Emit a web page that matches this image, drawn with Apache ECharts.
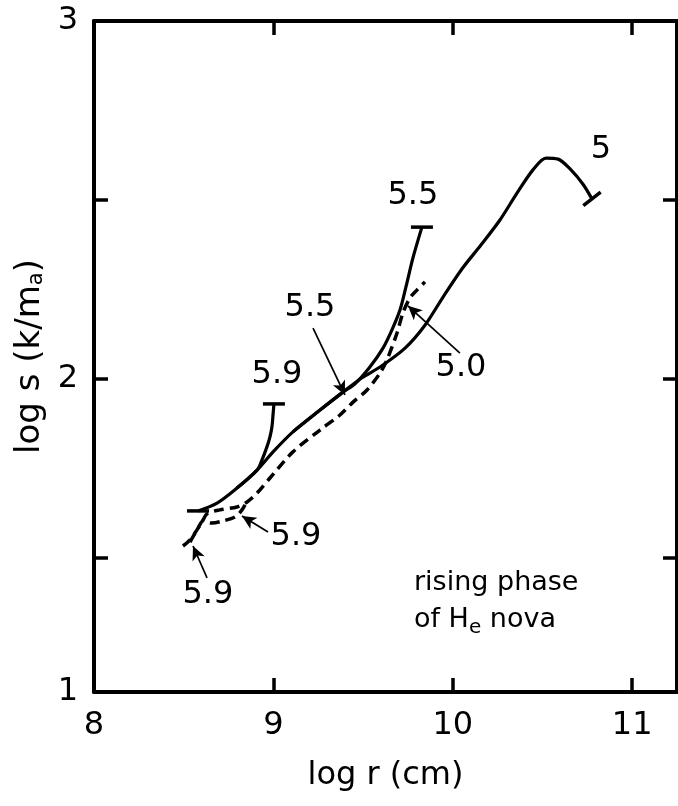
<!DOCTYPE html>
<html>
<head>
<meta charset="utf-8">
<script src="https://cdn.jsdelivr.net/npm/echarts@6/dist/echarts.min.js"></script>
<style>
  html, body { margin: 0; padding: 0; background: #fff; }
  #chart { width: 678px; height: 806px; }
</style>
</head>
<body>
<div id="chart"></div>
<script>
// Tick positions and labels
const xTickValues = [9, 10, 11];
const xLabelValues = [8, 9, 10, 11];
const yTickValues = [1.5, 2, 2.5];
const yLabelValues = [1.125, 2, 3];
const yLabelText = ['1', '2', '3'];

// Solid tracks: log r (cm) vs log s (k/m_a)
const track5X = [8.580, 8.686, 8.797, 8.909, 8.998, 9.109, 9.260, 9.388, 9.494, 9.594, 9.734, 9.845, 9.945, 10.051, 10.157, 10.263, 10.358, 10.447, 10.520, 10.587, 10.659, 10.726, 10.776];
const track5Y = [1.631, 1.653, 1.695, 1.745, 1.796, 1.852, 1.913, 1.963, 2.003, 2.033, 2.086, 2.150, 2.228, 2.307, 2.374, 2.444, 2.519, 2.584, 2.617, 2.614, 2.584, 2.544, 2.503];

const track55X = [9.109, 9.260, 9.388, 9.455, 9.538, 9.611, 9.661, 9.706, 9.739, 9.778, 9.828];
const track55Y = [1.852, 1.913, 1.963, 1.986, 2.033, 2.086, 2.137, 2.193, 2.257, 2.338, 2.424];

const track59X = [8.797, 8.909, 8.936, 8.964, 8.981, 8.992, 8.998, 9.003];
const track59Y = [1.695, 1.745, 1.773, 1.810, 1.838, 1.866, 1.899, 1.930];

// Dashed tracks
const dash50X = [8.496, 8.535, 8.574, 8.602, 8.630, 8.702, 8.797, 8.853, 8.909, 8.981, 9.109, 9.260, 9.371, 9.444, 9.522, 9.594, 9.633, 9.689, 9.722, 9.761, 9.800, 9.845];
const dash50Y = [1.533, 1.550, 1.578, 1.600, 1.623, 1.634, 1.642, 1.656, 1.681, 1.723, 1.796, 1.857, 1.899, 1.935, 1.969, 2.016, 2.053, 2.128, 2.184, 2.226, 2.248, 2.271];

const dash59X = [8.535, 8.580, 8.608, 8.658, 8.719, 8.786, 8.825, 8.858];
const dash59Y = [1.544, 1.583, 1.603, 1.597, 1.603, 1.614, 1.634, 1.662];

// Curve annotations
const labelText = ['5', '5.5', '5.9', '5.5', '5.0', '5.9', '5.9'];
const labelX = [10.826, 9.778, 9.020, 9.204, 10.046, 9.126, 8.635];
const labelY = [2.640, 2.511, 2.011, 2.198, 2.030, 1.558, 1.396];

// Pointer arrows (tail -> head)
const arrowFromX = [9.221, 10.040, 8.970, 8.630];
const arrowFromY = [2.142, 2.072, 1.572, 1.444];
const arrowToX = [9.399, 9.750, 8.825, 8.552];
const arrowToY = [1.955, 2.204, 1.617, 1.533];

const FONT = "'DejaVu Sans', sans-serif";
const INK = '#000';

const pairs = (xs, ys) => xs.map((x, i) => [x, ys[i]]);

// caps: map of point index -> rotation (deg) of the end bar drawn there
function solidTrack(xs, ys, caps) {
  return {
    type: 'line',
    data: pairs(xs, ys),
    smooth: 0.3,
    showSymbol: true,
    symbol: (v, p) => (p.dataIndex in caps ? 'rect' : 'none'),
    symbolSize: [22, 3.5],
    symbolRotate: (v, p) => caps[p.dataIndex] || 0,
    itemStyle: { color: INK, opacity: 1 },
    lineStyle: { color: INK, width: 3.2 },
    silent: true,
    z: 3
  };
}

function dashedTrack(xs, ys) {
  return {
    type: 'line',
    data: pairs(xs, ys),
    smooth: 0.3,
    showSymbol: false,
    lineStyle: { color: INK, width: 3.5, type: [10, 6] },
    silent: true,
    z: 2
  };
}

const axisLine = { show: true, onZero: false, lineStyle: { color: INK, width: 4 } };
const tickStyle = { color: INK, width: 3.5 };

const chart = echarts.init(document.getElementById('chart'), null, { renderer: 'canvas' });

chart.setOption({
  animation: false,
  backgroundColor: '#fff',
  grid: { left: 94, right: 1, top: 21, bottom: 114, containLabel: false },
  xAxis: [
    {
      type: 'value', position: 'bottom', min: 8, max: 11.25, interval: 0.25,
      axisLine,
      axisTick: { show: true, inside: true, length: 14, customValues: xTickValues, lineStyle: tickStyle },
      axisLabel: { customValues: xLabelValues, margin: 18, fontSize: 32, color: INK, fontFamily: FONT },
      splitLine: { show: false },
      name: 'log r (cm)', nameLocation: 'middle', nameGap: 68,
      nameTextStyle: { fontSize: 32, color: INK, fontFamily: FONT }
    },
    {
      type: 'value', position: 'top', min: 8, max: 11.25, interval: 0.25,
      axisLine,
      axisTick: { show: true, inside: true, length: 14, customValues: xTickValues, lineStyle: tickStyle },
      axisLabel: { show: false },
      splitLine: { show: false }
    }
  ],
  yAxis: [
    {
      type: 'value', position: 'left', min: 1.125, max: 3, interval: 0.125,
      axisLine,
      axisTick: { show: true, inside: true, length: 14, customValues: yTickValues, lineStyle: tickStyle },
      axisLabel: {
        customValues: yLabelValues, margin: 16, fontSize: 32, color: INK, fontFamily: FONT,
        formatter: v => yLabelText[yLabelValues.indexOf(v)]
      },
      splitLine: { show: false },
      name: 'log s (k/m{sub|a})', nameLocation: 'middle', nameRotate: 90, nameGap: 44,
      nameTextStyle: {
        fontSize: 34, color: INK, fontFamily: FONT,
        rich: { sub: { fontSize: 21, color: INK, fontFamily: FONT, verticalAlign: 'bottom' } }
      }
    },
    {
      type: 'value', position: 'right', min: 1.125, max: 3, interval: 0.125,
      axisLine,
      axisTick: { show: true, inside: true, length: 14, customValues: yTickValues, lineStyle: tickStyle },
      axisLabel: { show: false },
      splitLine: { show: false }
    }
  ],
  series: [
    solidTrack(track5X, track5Y, { 0: 0, [track5X.length - 1]: 38 }),
    solidTrack(track55X, track55Y, { [track55X.length - 1]: 0 }),
    solidTrack(track59X, track59Y, { [track59X.length - 1]: 0 }),
    dashedTrack(dash50X, dash50Y),
    dashedTrack(dash59X, dash59Y),
    {
      type: 'scatter',
      data: labelX.map((x, i) => ({ value: [x, labelY[i]], name: labelText[i] })),
      symbolSize: 0,
      silent: true,
      itemStyle: { opacity: 1, color: INK },
      label: {
        show: true, position: 'inside', formatter: '{b}',
        fontSize: 32, color: INK, fontFamily: FONT
      },
      markLine: {
        silent: true,
        symbol: ['none', 'arrow'],
        symbolSize: [10, 14],
        label: { show: false },
        lineStyle: { color: INK, width: 1.7, type: 'solid', opacity: 1 },
        data: arrowFromX.map((x, i) => [
          { coord: [x, arrowFromY[i]] },
          { coord: [arrowToX[i], arrowToY[i]] }
        ])
      },
      z: 4
    }
  ],
  graphic: [
    {
      type: 'text',
      left: 414,
      top: 564,
      silent: true,
      style: {
        text: 'rising phase\nof H{e|e} nova',
        fontSize: 27,
        fontFamily: FONT,
        fill: INK,
        lineHeight: 37,
        rich: { e: { fontSize: 20, fontFamily: FONT, fill: INK, verticalAlign: 'bottom' } }
      }
    }
  ]
});
</script>
</body>
</html>
